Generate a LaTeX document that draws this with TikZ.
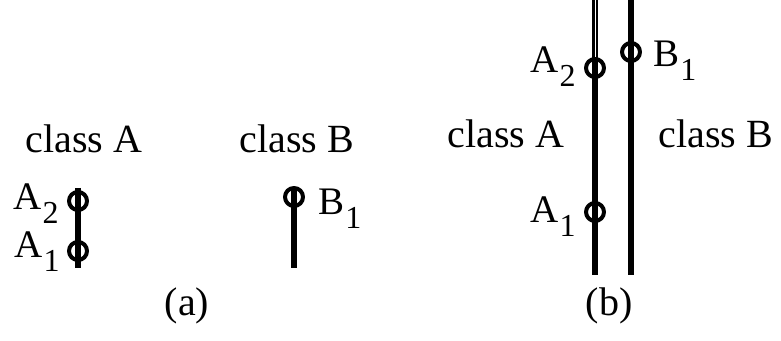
\documentclass[tikz,border=0pt]{standalone}
\usepackage{fontspec}
\setmainfont{Liberation Serif}
\newcommand{\lowidx}[1]{\kern0.5pt\raisebox{-7pt}{\fontsize{16}{18}\selectfont #1}}
\begin{document}
\begin{tikzpicture}[x=0.5pt, y=-0.5pt, line join=round,
    bar/.style={line width=3pt},
    ring/.style={circle, draw, line width=2pt, inner sep=0pt, minimum size=9pt},
    lab/.style={anchor=base west, inner sep=0pt, font=\fontsize{19.5}{22}\selectfont},
    cls/.style={anchor=base, inner sep=0pt, font=\fontsize{20}{24}\selectfont}]
  \useasboundingbox (0,0) rectangle (781,341);
  % (a)
  \node[cls] (clsa) at (84,153) {class A};
  \node[cls] (clsb) at (297,153) {class B};
  \coordinate (at) at (78,188); \coordinate (ab) at (78,268);
  \coordinate (bt) at (294,190); \coordinate (bb) at (294,268);
  \draw[bar] (at) -- (ab);
  \draw[bar] (bt) -- (bb);
  \node[ring] (a2) at (78,201) {};
  \node[ring] (a1) at (78,251) {};
  \node[ring] (b1) at (294,197) {};
  \node[lab] (la2) at (13,210) {A\lowidx{2}};
  \node[lab] (la1) at (14,258) {A\lowidx{1}};
  \node[lab] (lb1) at (318,215) {B\lowidx{1}};
  \node[cls] (capa) at (187,316) {(a)};
  % (b)
  \node[cls] (clsa2) at (506,148) {class A};
  \node[cls] (clsb2) at (716,148) {class B};
  \coordinate (ta) at (595,0); \coordinate (tb) at (595,275);
  \coordinate (tw) at (595,58);
  \coordinate (ua) at (631,0); \coordinate (ub) at (631,275);
  \draw[bar] (ta) -- (tb);
  \draw[white, line width=0.5pt] (ta) -- (tw);
  \draw[bar] (ua) -- (ub);
  \node[ring] (c2) at (595,68) {};
  \node[ring] (c1) at (595,212) {};
  \node[ring] (d1) at (631,52) {};
  \node[lab] (lc2) at (530,73) {A\lowidx{2}};
  \node[lab] (lc1) at (530,223) {A\lowidx{1}};
  \node[lab] (ld1) at (653,67) {B\lowidx{1}};
  \node[cls] (capb) at (609,316) {(b)};
\end{tikzpicture}
\end{document}
